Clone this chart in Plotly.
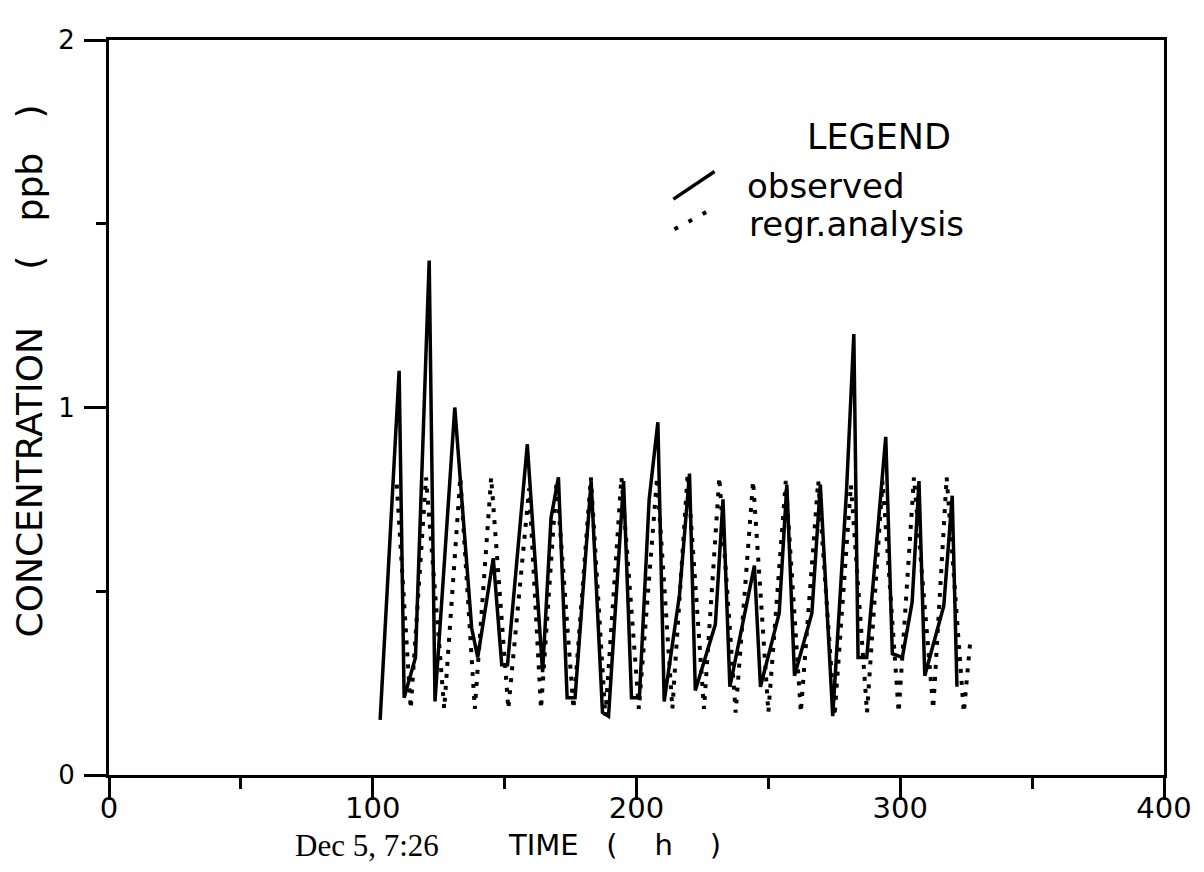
import plotly.graph_objects as go

# ---- data ----
obs_time = [102.8, 110.0, 111.9, 116.2, 121.4, 123.6, 131.1, 137.5, 139.8, 145.7,
            148.9, 151.1, 158.6, 164.4, 167.6, 170.4, 173.7, 176.7, 182.8, 187.1,
            189.4, 195.1, 198.1, 201.1, 204.8, 208.1, 210.5, 216.3, 220.1, 222.3,
            229.9, 232.8, 235.4, 244.7, 247.0, 254.1, 257.0, 259.9, 266.5, 269.7,
            274.4, 279.6, 282.4, 284.0, 287.3, 294.5, 297.0, 300.8, 304.5, 307.1,
            309.3, 316.5, 319.7, 321.5]
obs_conc = [0.15, 1.10, 0.21, 0.32, 1.40, 0.20, 1.00, 0.40, 0.32, 0.59,
            0.30, 0.30, 0.90, 0.28, 0.70, 0.81, 0.21, 0.21, 0.80, 0.17,
            0.16, 0.80, 0.21, 0.21, 0.75, 0.96, 0.20, 0.49, 0.82, 0.23,
            0.41, 0.75, 0.24, 0.57, 0.24, 0.44, 0.79, 0.27, 0.44, 0.79,
            0.16, 0.77, 1.20, 0.32, 0.32, 0.92, 0.33, 0.32, 0.47, 0.80,
            0.27, 0.46, 0.76, 0.24]

reg_time = [109.1, 114.4, 120.2, 127.1, 133.2, 138.7, 144.9, 151.4, 159.3, 163.8,
            169.7, 176.1, 182.7, 188.2, 194.3, 200.9, 207.8, 213.6, 219.4, 225.6,
            231.4, 237.6, 244.2, 250.0, 256.6, 262.3, 268.9, 275.1, 281.3, 287.4,
            293.3, 299.4, 305.2, 312.5, 317.6, 324.1, 326.5]
reg_conc = [0.79, 0.18, 0.81, 0.18, 0.81, 0.18, 0.81, 0.18, 0.78, 0.18,
            0.80, 0.18, 0.81, 0.16, 0.81, 0.18, 0.81, 0.18, 0.82, 0.18,
            0.81, 0.17, 0.80, 0.17, 0.80, 0.17, 0.80, 0.16, 0.79, 0.17,
            0.80, 0.17, 0.81, 0.18, 0.81, 0.17, 0.36]

x_ticks = [0, 100, 200, 300, 400]
x_minor = [50, 150, 250, 350]
y_ticks = [0, 1, 2]
y_minor = [0.5, 1.5]

SANS = "DejaVu Sans"
SERIF = "Liberation Serif"
NB = "\u00a0"

fig = go.Figure()
fig.add_trace(go.Scatter(x=reg_time, y=reg_conc, mode="lines", name="regr.analysis",
                         line=dict(color="black", width=4, dash="4px,8px")))
fig.add_trace(go.Scatter(x=obs_time, y=obs_conc, mode="lines", name="observed",
                         line=dict(color="black", width=3.5)))

axis_common = dict(showline=True, linewidth=3, linecolor="black", mirror=True,
                   showgrid=False, zeroline=False, ticks="outside",
                   tickwidth=2.5, tickcolor="black", ticklen=22)

fig.update_layout(
    width=1204, height=872,
    margin=dict(l=109, r=30, t=40, b=97),
    paper_bgcolor="white", plot_bgcolor="white",
    showlegend=False,
    xaxis=dict(range=[0, 400], tickmode="array", tickvals=x_ticks,
               ticktext=[str(v) for v in x_ticks],
               tickfont=dict(family=SANS, size=29, color="black"),
               ticklabelstandoff=-17,
               minor=dict(tickmode="array", tickvals=x_minor, ticks="outside",
                          ticklen=11, tickwidth=2.5, tickcolor="black"),
               **axis_common),
    yaxis=dict(range=[0, 2], tickmode="array", tickvals=y_ticks,
               ticktext=[str(v) for v in y_ticks],
               tickfont=dict(family=SANS, size=26, color="black"),
               ticklabelstandoff=4,
               minor=dict(tickmode="array", tickvals=y_minor, ticks="outside",
                          ticklen=10, tickwidth=2.5, tickcolor="black"),
               **axis_common),
)

annotations = [
    # y-axis title
    dict(text="CONCENTRATION" + NB * 5 + "(" + NB * 3 + "ppb" + NB * 3 + ")",
         xref="paper", yref="paper", x=0, y=0.549, xshift=-80,
         textangle=-90, showarrow=False, xanchor="center", yanchor="middle",
         font=dict(family=SANS, size=36, color="black")),
    # x-axis title
    dict(text="TIME" + NB * 3 + "(" + NB * 4 + "h" + NB * 4 + ")",
         xref="x", yref="paper", x=191.5, y=0, yshift=-70,
         showarrow=False, xanchor="center", yanchor="middle",
         font=dict(family=SANS, size=29, color="black")),
    # start date note
    dict(text="Dec 5, 7:26", xref="x", yref="paper", x=97.7, y=0, yshift=-70,
         showarrow=False, xanchor="center", yanchor="middle",
         font=dict(family=SERIF, size=31, color="black")),
    # custom legend
    dict(text="LEGEND", xref="x", yref="y", x=292, y=1.735,
         showarrow=False, xanchor="center", yanchor="middle",
         font=dict(family=SANS, size=35, color="black")),
    dict(text="observed", xref="x", yref="y", x=241.3, y=1.603,
         showarrow=False, xanchor="left", yanchor="middle",
         font=dict(family=SANS, size=34, color="black")),
    dict(text="regr.analysis", xref="x", yref="y", x=241.8, y=1.500,
         showarrow=False, xanchor="left", yanchor="middle",
         font=dict(family=SANS, size=34, color="black")),
]
fig.update_layout(annotations=annotations)

fig.add_shape(type="line", xref="x", yref="y", x0=214.0, y0=1.567, x1=229.6, y1=1.642,
              line=dict(color="black", width=3.5))
fig.add_shape(type="line", xref="x", yref="y", x0=214.4, y0=1.485, x1=226.5, y1=1.532,
              line=dict(color="black", width=4, dash="4px,12px"))

fig.write_html("out.html")
